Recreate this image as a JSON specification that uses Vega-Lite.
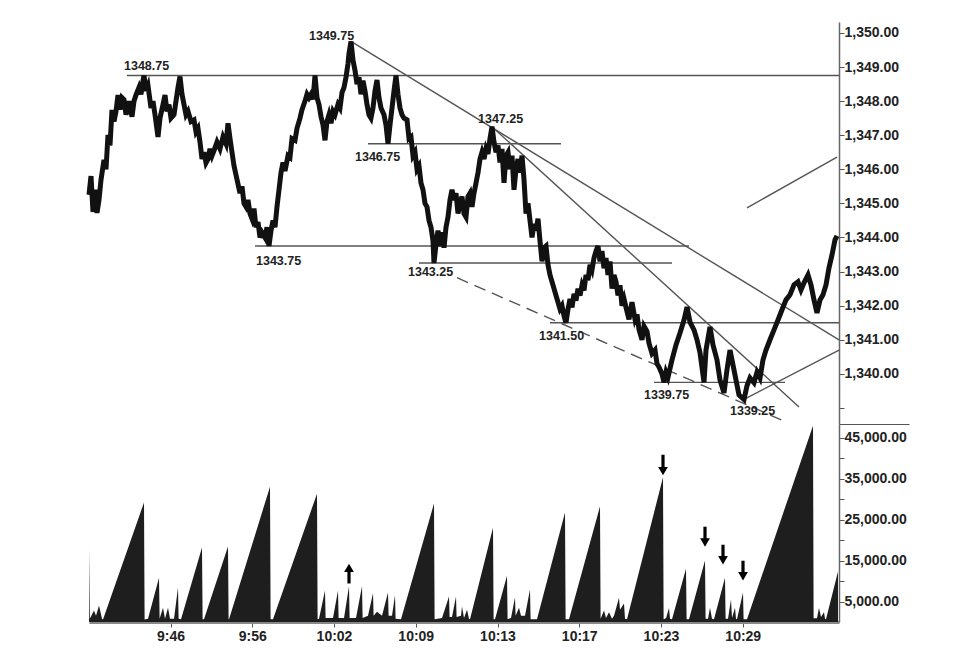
{
  "$schema": "https://vega.github.io/schema/vega-lite/v6.json",
  "padding": {"left": 79, "top": 22, "right": 5, "bottom": 5},
  "background": "white",
  "spacing": 0,
  "bounds": "flush",
  "config": {
    "view": {"stroke": null},
    "axis": {"labelFont": "Liberation Sans", "labelFontWeight": "bold", "labelFontSize": 14, "labelColor": "#222", "domainColor": "#666", "tickColor": "#555", "grid": false, "title": null}
  },
  "datasets": {
    "price": [
      {"i":0,"p":1345.25},{"i":2,"p":1345.8},{"i":4,"p":1344.75},{"i":6,"p":1345.4},{"i":8,"p":1344.72},{"i":10,"p":1345.1},{"i":12,"p":1345.69},{"i":15,"p":1346.28},{"i":17,"p":1346.0},{"i":19,"p":1347.01},{"i":21,"p":1346.7},{"i":23,"p":1347.74},{"i":25,"p":1347.4},{"i":27,"p":1347.7},{"i":29,"p":1348.18},{"i":31,"p":1347.75},{"i":33,"p":1348.1},{"i":35,"p":1348.04},{"i":37,"p":1347.6},{"i":40,"p":1348.0},{"i":43,"p":1347.54},{"i":45,"p":1348.0},{"i":47,"p":1348.18},{"i":50,"p":1348.4},{"i":52,"p":1348.2},{"i":54,"p":1348.6},{"i":55,"p":1348.75},{"i":57,"p":1348.3},{"i":59,"p":1348.45},{"i":62,"p":1347.8},{"i":64,"p":1348.0},{"i":66,"p":1347.6},{"i":69,"p":1346.95},{"i":71,"p":1347.5},{"i":74,"p":1347.9},{"i":76,"p":1348.18},{"i":78,"p":1347.7},{"i":80,"p":1347.9},{"i":82,"p":1347.5},{"i":85,"p":1347.6},{"i":87,"p":1348.0},{"i":89,"p":1348.4},{"i":91,"p":1348.72},{"i":93,"p":1348.2},{"i":95,"p":1347.9},{"i":97,"p":1347.6},{"i":99,"p":1347.7},{"i":102,"p":1347.4},{"i":105,"p":1347.45},{"i":107,"p":1347.1},{"i":109,"p":1347.2},{"i":111,"p":1346.8},{"i":113,"p":1346.3},{"i":115,"p":1346.5},{"i":117,"p":1346.19},{"i":119,"p":1346.3},{"i":121,"p":1346.6},{"i":123,"p":1346.4},{"i":125,"p":1346.55},{"i":128,"p":1346.8},{"i":131,"p":1346.6},{"i":134,"p":1346.95},{"i":137,"p":1346.75},{"i":139,"p":1347.35},{"i":141,"p":1346.9},{"i":143,"p":1346.5},{"i":145,"p":1346.1},{"i":148,"p":1345.7},{"i":151,"p":1345.3},{"i":153,"p":1345.5},{"i":155,"p":1345.0},{"i":157,"p":1344.9},{"i":159,"p":1345.1},{"i":161,"p":1344.7},{"i":163,"p":1344.55},{"i":165,"p":1344.85},{"i":167,"p":1344.3},{"i":169,"p":1344.45},{"i":171,"p":1344.0},{"i":173,"p":1344.15},{"i":176,"p":1344.0},{"i":178,"p":1344.3},{"i":180,"p":1343.75},{"i":182,"p":1344.2},{"i":184,"p":1344.5},{"i":186,"p":1344.3},{"i":188,"p":1344.9},{"i":190,"p":1345.4},{"i":192,"p":1345.9},{"i":194,"p":1346.2},{"i":196,"p":1345.95},{"i":199,"p":1346.4},{"i":201,"p":1346.35},{"i":203,"p":1346.9},{"i":206,"p":1346.85},{"i":208,"p":1347.2},{"i":211,"p":1347.5},{"i":213,"p":1347.75},{"i":216,"p":1348.0},{"i":218,"p":1348.2},{"i":220,"p":1348.1},{"i":222,"p":1348.2},{"i":224,"p":1348.05},{"i":226,"p":1348.75},{"i":228,"p":1348.1},{"i":230,"p":1347.9},{"i":232,"p":1347.55},{"i":234,"p":1347.3},{"i":236,"p":1346.85},{"i":238,"p":1347.4},{"i":240,"p":1347.6},{"i":242,"p":1347.35},{"i":244,"p":1347.7},{"i":246,"p":1347.6},{"i":249,"p":1347.9},{"i":251,"p":1347.8},{"i":253,"p":1348.25},{"i":255,"p":1348.4},{"i":257,"p":1348.7},{"i":259,"p":1349.1},{"i":260,"p":1349.4},{"i":262,"p":1349.75},{"i":264,"p":1349.2},{"i":266,"p":1348.9},{"i":268,"p":1348.5},{"i":270,"p":1348.7},{"i":272,"p":1348.2},{"i":274,"p":1348.6},{"i":276,"p":1348.3},{"i":278,"p":1347.9},{"i":280,"p":1347.6},{"i":282,"p":1347.5},{"i":284,"p":1347.8},{"i":286,"p":1348.3},{"i":288,"p":1348.62},{"i":290,"p":1348.1},{"i":292,"p":1347.8},{"i":295,"p":1347.6},{"i":297,"p":1347.3},{"i":299,"p":1346.75},{"i":301,"p":1347.3},{"i":303,"p":1347.8},{"i":305,"p":1348.3},{"i":307,"p":1348.75},{"i":309,"p":1348.2},{"i":311,"p":1347.8},{"i":313,"p":1347.6},{"i":315,"p":1347.5},{"i":318,"p":1347.45},{"i":320,"p":1346.9},{"i":322,"p":1346.95},{"i":324,"p":1346.4},{"i":326,"p":1346.5},{"i":328,"p":1346.0},{"i":330,"p":1346.1},{"i":332,"p":1345.6},{"i":334,"p":1345.4},{"i":336,"p":1345.0},{"i":338,"p":1344.9},{"i":340,"p":1344.5},{"i":342,"p":1344.3},{"i":344,"p":1343.9},{"i":345,"p":1343.25},{"i":347,"p":1343.8},{"i":349,"p":1344.2},{"i":351,"p":1343.75},{"i":353,"p":1344.15},{"i":355,"p":1343.7},{"i":357,"p":1344.3},{"i":359,"p":1344.6},{"i":361,"p":1345.1},{"i":363,"p":1345.4},{"i":365,"p":1345.1},{"i":367,"p":1345.3},{"i":369,"p":1344.7},{"i":371,"p":1345.0},{"i":373,"p":1345.2},{"i":375,"p":1344.7},{"i":377,"p":1344.6},{"i":379,"p":1345.2},{"i":381,"p":1345.3},{"i":383,"p":1344.9},{"i":385,"p":1345.3},{"i":387,"p":1345.6},{"i":389,"p":1345.9},{"i":391,"p":1346.3},{"i":393,"p":1346.5},{"i":395,"p":1346.3},{"i":397,"p":1346.6},{"i":399,"p":1346.45},{"i":401,"p":1346.9},{"i":403,"p":1347.25},{"i":405,"p":1346.8},{"i":407,"p":1346.5},{"i":409,"p":1346.7},{"i":411,"p":1346.2},{"i":413,"p":1346.6},{"i":415,"p":1345.6},{"i":417,"p":1346.4},{"i":419,"p":1346.5},{"i":421,"p":1346.0},{"i":423,"p":1346.4},{"i":425,"p":1345.4},{"i":427,"p":1346.0},{"i":429,"p":1346.3},{"i":431,"p":1345.9},{"i":433,"p":1346.4},{"i":435,"p":1345.7},{"i":437,"p":1344.7},{"i":439,"p":1345.0},{"i":441,"p":1344.5},{"i":443,"p":1344.0},{"i":445,"p":1344.4},{"i":447,"p":1344.2},{"i":449,"p":1344.55},{"i":451,"p":1343.9},{"i":453,"p":1343.3},{"i":455,"p":1343.7},{"i":457,"p":1343.75},{"i":459,"p":1343.2},{"i":461,"p":1342.9},{"i":463,"p":1342.7},{"i":465,"p":1342.5},{"i":467,"p":1342.3},{"i":469,"p":1342.1},{"i":471,"p":1341.9},{"i":473,"p":1342.0},{"i":475,"p":1341.7},{"i":477,"p":1341.5},{"i":479,"p":1341.9},{"i":481,"p":1342.2},{"i":483,"p":1341.95},{"i":485,"p":1342.35},{"i":487,"p":1342.15},{"i":489,"p":1342.5},{"i":491,"p":1342.3},{"i":493,"p":1342.6},{"i":495,"p":1342.45},{"i":497,"p":1342.9},{"i":499,"p":1342.75},{"i":501,"p":1343.2},{"i":503,"p":1343.05},{"i":505,"p":1343.4},{"i":507,"p":1343.6},{"i":509,"p":1343.75},{"i":511,"p":1343.3},{"i":513,"p":1343.6},{"i":515,"p":1343.1},{"i":517,"p":1343.4},{"i":519,"p":1342.9},{"i":521,"p":1343.3},{"i":523,"p":1342.5},{"i":525,"p":1342.9},{"i":527,"p":1342.7},{"i":529,"p":1342.3},{"i":531,"p":1342.6},{"i":533,"p":1342.0},{"i":535,"p":1342.2},{"i":537,"p":1341.95},{"i":540,"p":1341.6},{"i":543,"p":1342.1},{"i":546,"p":1341.6},{"i":548,"p":1341.75},{"i":550,"p":1341.3},{"i":553,"p":1341.0},{"i":555,"p":1341.4},{"i":558,"p":1341.25},{"i":560,"p":1340.9},{"i":563,"p":1340.6},{"i":566,"p":1340.7},{"i":568,"p":1340.3},{"i":570,"p":1340.2},{"i":573,"p":1340.0},{"i":575,"p":1339.75},{"i":577,"p":1340.05},{"i":579,"p":1339.9},{"i":583,"p":1340.41},{"i":587,"p":1340.85},{"i":591,"p":1341.2},{"i":595,"p":1341.58},{"i":598,"p":1341.96},{"i":601,"p":1341.52},{"i":605,"p":1341.29},{"i":608,"p":1341.0},{"i":611,"p":1340.62},{"i":615,"p":1339.75},{"i":617,"p":1340.7},{"i":621,"p":1341.38},{"i":624,"p":1340.85},{"i":628,"p":1340.41},{"i":631,"p":1339.82},{"i":635,"p":1339.44},{"i":638,"p":1340.12},{"i":641,"p":1340.7},{"i":644,"p":1340.26},{"i":647,"p":1339.82},{"i":650,"p":1339.38},{"i":655,"p":1339.25},{"i":658,"p":1339.65},{"i":661,"p":1339.88},{"i":665,"p":1339.74},{"i":668,"p":1340.05},{"i":671,"p":1339.88},{"i":674,"p":1340.41},{"i":677,"p":1340.7},{"i":681,"p":1341.0},{"i":685,"p":1341.29},{"i":689,"p":1341.58},{"i":693,"p":1341.88},{"i":697,"p":1342.17},{"i":701,"p":1342.32},{"i":705,"p":1342.61},{"i":709,"p":1342.7},{"i":712,"p":1342.46},{"i":715,"p":1342.67},{"i":719,"p":1342.9},{"i":722,"p":1342.61},{"i":725,"p":1342.17},{"i":728,"p":1341.79},{"i":731,"p":1342.17},{"i":734,"p":1342.32},{"i":737,"p":1342.61},{"i":740,"p":1343.11},{"i":743,"p":1343.49},{"i":746,"p":1343.93},{"i":748,"p":1344.05}
    ],
    "hlines": [
      {"i":38,"i2":750,"p":1348.75},
      {"i":279,"i2":472,"p":1346.75},
      {"i":166,"i2":600,"p":1343.75},
      {"i":330,"i2":583,"p":1343.25},
      {"i":461,"i2":750,"p":1341.5},
      {"i":565,"i2":696,"p":1339.75}
    ],
    "tlines": [
      {"i":262,"p":1349.75,"i2":750,"p2":1341.0},
      {"i":403,"p":1347.25,"i2":710,"p2":1339.03},
      {"i":655,"p":1339.25,"i2":750,"p2":1340.7},
      {"i":658,"p":1344.87,"i2":748,"p2":1346.36}
    ],
    "dlines": [
      {"i":368,"p":1342.82,"i2":697,"p2":1338.59}
    ],
    "labels": [
      {"i":35,"p":1349.03,"t":"1348.75"},
      {"i":220,"p":1349.91,"t":"1349.75"},
      {"i":266,"p":1346.36,"t":"1346.75"},
      {"i":389,"p":1347.48,"t":"1347.25"},
      {"i":167,"p":1343.31,"t":"1343.75"},
      {"i":319,"p":1342.99,"t":"1343.25"},
      {"i":450,"p":1341.11,"t":"1341.50"},
      {"i":555,"p":1339.38,"t":"1339.75"},
      {"i":641,"p":1338.91,"t":"1339.25"}
    ],
    "volume": [
      {"i":0,"v":17900},{"i":0.8,"v":800},{"i":5,"v":2800},{"i":7,"v":1500},{"i":10,"v":4000},{"i":13,"v":800},{"i":14,"v":600},{"i":55,"v":29150},{"i":55.6,"v":600},{"i":59,"v":800},{"i":70,"v":10800},{"i":70.6,"v":800},{"i":74,"v":3500},{"i":76,"v":800},{"i":79,"v":3500},{"i":81,"v":800},{"i":85,"v":800},{"i":89,"v":8400},{"i":89.6,"v":800},{"i":92,"v":700},{"i":113,"v":18200},{"i":113.6,"v":700},{"i":115,"v":700},{"i":139,"v":18400},{"i":139.6,"v":700},{"i":140,"v":700},{"i":181,"v":33000},{"i":181.6,"v":700},{"i":184,"v":700},{"i":228,"v":31300},{"i":228.6,"v":700},{"i":230,"v":800},{"i":236,"v":7700},{"i":236.6,"v":1000},{"i":244,"v":1000},{"i":249,"v":7700},{"i":249.6,"v":1000},{"i":255,"v":1000},{"i":260,"v":8700},{"i":260.6,"v":1000},{"i":267,"v":1000},{"i":273,"v":8700},{"i":273.6,"v":1000},{"i":279,"v":1500},{"i":284,"v":7000},{"i":284.6,"v":1500},{"i":288,"v":2500},{"i":293,"v":1500},{"i":299,"v":7200},{"i":299.6,"v":1500},{"i":303,"v":1500},{"i":306,"v":6500},{"i":306.6,"v":800},{"i":312,"v":700},{"i":345,"v":28900},{"i":345.6,"v":700},{"i":353,"v":1000},{"i":360,"v":6200},{"i":360.6,"v":1200},{"i":363,"v":1200},{"i":367,"v":6200},{"i":367.6,"v":1200},{"i":372,"v":1500},{"i":373,"v":3800},{"i":375,"v":1000},{"i":378,"v":3000},{"i":380,"v":800},{"i":381,"v":700},{"i":404,"v":23000},{"i":404.6,"v":700},{"i":406,"v":700},{"i":418,"v":11300},{"i":418.6,"v":700},{"i":422,"v":1000},{"i":426,"v":6000},{"i":426.6,"v":1500},{"i":430,"v":3500},{"i":432,"v":1500},{"i":436,"v":1500},{"i":441,"v":7900},{"i":441.6,"v":700},{"i":445,"v":700},{"i":448,"v":700},{"i":476,"v":26700},{"i":476.6,"v":700},{"i":480,"v":700},{"i":511,"v":28200},{"i":511.6,"v":800},{"i":515,"v":2800},{"i":517,"v":1000},{"i":520,"v":2400},{"i":523,"v":800},{"i":525,"v":1500},{"i":530,"v":5900},{"i":531,"v":3000},{"i":535,"v":4500},{"i":536,"v":800},{"i":538,"v":700},{"i":574,"v":35300},{"i":574.6,"v":700},{"i":577,"v":900},{"i":580,"v":3400},{"i":581,"v":800},{"i":583,"v":700},{"i":597,"v":13000},{"i":597.6,"v":700},{"i":600,"v":700},{"i":616,"v":15000},{"i":616.6,"v":800},{"i":619,"v":800},{"i":621,"v":3500},{"i":623,"v":800},{"i":625,"v":700},{"i":636,"v":10800},{"i":636.6,"v":800},{"i":639,"v":800},{"i":642,"v":5500},{"i":643,"v":1000},{"i":646,"v":3500},{"i":647,"v":800},{"i":648,"v":700},{"i":654,"v":7200},{"i":654.6,"v":700},{"i":658,"v":700},{"i":724,"v":47900},{"i":724.6,"v":900},{"i":728,"v":900},{"i":730,"v":3400},{"i":732,"v":1200},{"i":735,"v":2400},{"i":736,"v":800},{"i":737,"v":700},{"i":749,"v":12300}
    ],
    "arrows": [
      {"i":260,"v":9400,"v2":13200,"dir":"up"},
      {"i":574,"v":40800,"v2":36800,"dir":"down"},
      {"i":616,"v":23250,"v2":19400,"dir":"down"},
      {"i":634,"v":18850,"v2":15050,"dir":"down"},
      {"i":654,"v":14950,"v2":11150,"dir":"down"}
    ]
  },
  "vconcat": [
    {
      "width": 750,
      "height": 402,
      "encoding": {
        "x": {"field": "i", "type": "quantitative", "scale": {"domain": [0, 750], "nice": false, "zero": false}, "axis": null},
        "y": {"field": "p", "type": "quantitative", "scale": {"domain": [1338.53, 1350.32], "nice": false, "zero": false},
          "axis": {"orient": "right", "values": [1339,1340,1341,1342,1343,1344,1345,1346,1347,1348,1349,1350], "labelExpr": "datum.value < 1339.5 ? '' : format(datum.value, ',.2f')", "tickSize": 5, "labelPadding": 0, "domainWidth": 1.5}}
      },
      "layer": [
        {"data": {"name": "hlines"}, "mark": {"type": "rule", "color": "#555", "strokeWidth": 1.4}, "encoding": {"x2": {"field": "i2"}}},
        {"data": {"name": "tlines"}, "mark": {"type": "rule", "color": "#555", "strokeWidth": 1.4}, "encoding": {"x2": {"field": "i2"}, "y2": {"field": "p2"}}},
        {"data": {"name": "dlines"}, "mark": {"type": "rule", "color": "#555", "strokeWidth": 1.4, "strokeDash": [12, 7]}, "encoding": {"x2": {"field": "i2"}, "y2": {"field": "p2"}}},
        {"data": {"name": "price"}, "mark": {"type": "line", "color": "#111", "strokeWidth": 5, "strokeJoin": "miter"}},
        {"data": {"name": "labels"}, "mark": {"type": "text", "align": "left", "baseline": "middle", "font": "Liberation Sans", "fontWeight": "bold", "fontSize": 12.5, "color": "#222"}, "encoding": {"text": {"field": "t"}}}
      ]
    },
    {
      "width": 750,
      "height": 198,
      "encoding": {
        "x": {"field": "i", "type": "quantitative", "scale": {"domain": [0, 750], "nice": false, "zero": false},
          "axis": {"orient": "bottom", "values": [81.5,163.25,245,326.75,408.5,490.25,572,653.75], "labelExpr": "['9:46','9:56','10:02','10:09','10:13','10:17','10:23','10:29'][round((datum.value-81.5)/81.75)]", "tickSize": 5, "labelPadding": 2, "domainColor": "#888", "domainWidth": 3}},
        "y": {"field": "v", "type": "quantitative", "scale": {"domain": [0, 48300], "nice": false},
          "axis": {"orient": "right", "values": [5000,10000,15000,20000,25000,30000,35000,40000,45000,48300], "labelExpr": "datum.value % 10000 == 5000 ? format(datum.value, ',.2f') : ''", "tickSize": {"condition": {"test": "datum.value > 46000", "value": 70}, "value": 5}, "labelPadding": 0, "domainWidth": 1.5}}
      },
      "layer": [
        {"data": {"name": "volume"}, "mark": {"type": "area", "color": "#1e1e1e"}},
        {"data": {"name": "arrows"}, "mark": {"type": "rule", "color": "#000", "strokeWidth": 3.2}, "encoding": {"y2": {"field": "v2"}}},
        {"data": {"name": "arrows"}, "mark": {"type": "point", "filled": true, "color": "#000", "size": 95, "opacity": 1}, "encoding": {"y": {"field": "v2", "type": "quantitative"}, "shape": {"field": "dir", "type": "nominal", "scale": {"domain": ["up", "down"], "range": ["triangle-up", "triangle-down"]}, "legend": null}}}
      ]
    }
  ]
}
